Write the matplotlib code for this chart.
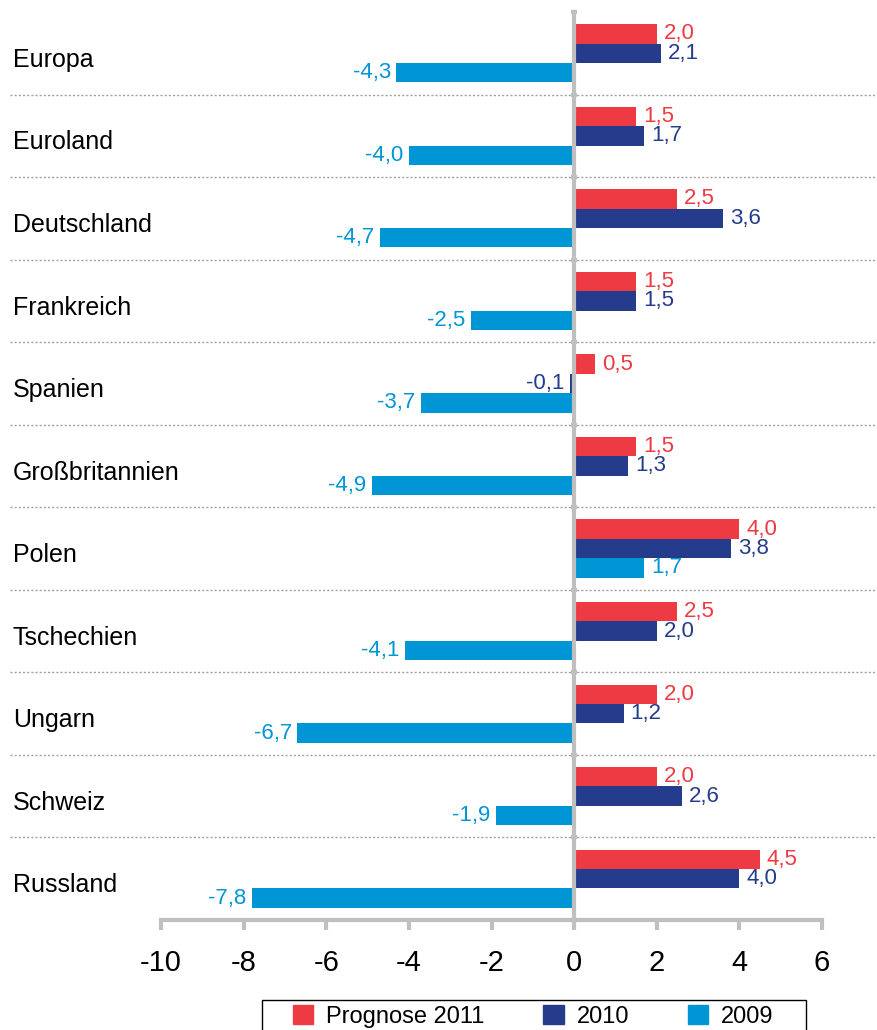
import numpy as np
import matplotlib.pyplot as plt
from matplotlib.patches import Patch, Rectangle

plt.rcParams['font.family'] = ['Liberation Sans', 'DejaVu Sans']

laender = ["Europa", "Euroland", "Deutschland", "Frankreich", "Spanien",
           "Großbritannien", "Polen", "Tschechien", "Ungarn", "Schweiz", "Russland"]
prognose_2011 = [2.0, 1.5, 2.5, 1.5, 0.5, 1.5, 4.0, 2.5, 2.0, 2.0, 4.5]
wert_2010 = [2.1, 1.7, 3.6, 1.5, -0.1, 1.3, 3.8, 2.0, 1.2, 2.6, 4.0]
wert_2009 = [-4.3, -4.0, -4.7, -2.5, -3.7, -4.9, 1.7, -4.1, -6.7, -1.9, -7.8]
serien = ["Prognose 2011", "2010", "2009"]
xticks = [-10, -8, -6, -4, -2, 0, 2, 4, 6]

farben = ["#ee3a43", "#253c8c", "#0096d6"]

fig = plt.figure(figsize=(8.77, 10.30), dpi=100)
ax = fig.add_axes([161/877, 1 - 920/1030, 661/877, (920 - 12)/1030])

y = np.arange(len(laender))
h = 0.235
for k, werte in enumerate([prognose_2011, wert_2010, wert_2009]):
    pos = y + (k - 1) * h
    ax.barh(pos, werte, height=h, color=farben[k], zorder=2)
    for p, v in zip(pos, werte):
        txt = f"{v:.1f}".replace(".", ",")
        if v >= 0:
            ax.annotate(txt, (v, p), xytext=(5, 0), textcoords="offset points",
                        ha="left", va="center", color=farben[k], fontsize=16)
        else:
            ax.annotate(txt, (v, p), xytext=(-4, 0), textcoords="offset points",
                        ha="right", va="center", color=farben[k], fontsize=16)

ax.set_xlim(-10, 6)
ax.set_ylim(len(laender) - 0.5, -0.5)

# gepunktete Trennlinien
for s in np.arange(0.5, len(laender) - 0.5, 1):
    ax.axhline(s, xmin=-0.228, xmax=1.083, color="#a0a0a0", lw=1,
               ls=(0, (1.5, 1.5)), clip_on=False, zorder=1)

for i, name in enumerate(laender):
    ax.text(-0.224, i + 0.08, name, transform=ax.get_yaxis_transform(),
            ha="left", va="center", fontsize=18)

for sp in ["top", "right"]:
    ax.spines[sp].set_visible(False)
ax.spines["left"].set_position(("data", 0))
ax.spines["left"].set_color("#bfbfbf")
ax.spines["left"].set_linewidth(3)
ax.spines["left"].set_zorder(3)
ax.spines["bottom"].set_color("#bfbfbf")
ax.spines["bottom"].set_linewidth(3)

ax.set_yticks(np.arange(-0.5, len(laender), 1))
ax.set_yticklabels([])
ax.tick_params(axis="y", length=5, width=3, color="#bfbfbf", direction="inout")
ax.set_xticks(xticks)
ax.set_xticklabels([str(t) for t in xticks], fontsize=21)
ax.tick_params(axis="x", length=7, width=3, color="#bfbfbf", pad=14)

# Legende ohne Rahmen, Rahmen separat (unten abgeschnitten wie im Original)
handles = [Patch(color=c) for c in farben]
fig.legend(handles, serien, loc="upper left", bbox_to_anchor=(293/877, 1 - 1005/1030),
           ncol=3, fontsize=17, frameon=False,
           handlelength=0.85, handleheight=0.85, handletextpad=0.55,
           columnspacing=2.5, borderpad=0, borderaxespad=0)
fig.add_artist(Rectangle((262/877, -0.01), (806 - 262)/877, 30/1030 + 0.01,
                         transform=fig.transFigure, fill=False, edgecolor="black", lw=1))

fig.savefig("out.png", dpi=100)
